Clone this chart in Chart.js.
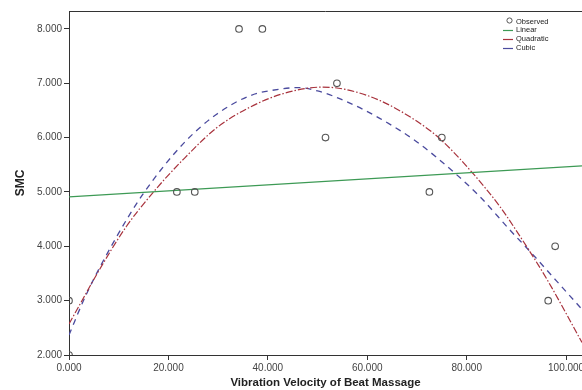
<!DOCTYPE html>
<html><head><meta charset="utf-8">
<script src="https://cdn.jsdelivr.net/npm/chart.js@4.4.0/dist/chart.umd.min.js"></script>
<style>html,body{margin:0;padding:0;background:#fff;}canvas{display:block;}</style>
</head><body>
<canvas id="c" width="582" height="390"></canvas>
<script>
// Observed points
const obsX = [0, 0, 21.7, 25.3, 34.2, 38.9, 51.6, 53.9, 72.5, 75.0, 96.4, 97.8];
const obsY = [3, 2, 5, 5, 8, 8, 6, 7, 5, 6, 3, 4];
// Linear fit
const linX = [0, 103.2];
const linY = [4.91, 5.48];
// Quadratic fit
const quadX = [0, 2, 6, 11.5, 17, 23, 29.7, 36.4, 43.1, 51, 56, 62.6, 70, 74.6, 80.7, 86.7, 89.4, 96.1, 103.2];
const quadY = [2.57, 2.9, 3.55, 4.36, 5.0, 5.6, 6.18, 6.56, 6.81, 6.93, 6.88, 6.68, 6.30, 5.98, 5.40, 4.73, 4.37, 3.40, 2.23];
// Cubic fit
const cubX = [0, 3.4, 8.8, 14.8, 23, 29.7, 36.4, 43.1, 46, 50, 55.9, 62.6, 70, 77.7, 82.7, 88.7, 93, 98.1, 103.2];
const cubY = [2.37, 3.1, 4.05, 4.95, 5.89, 6.43, 6.77, 6.90, 6.92, 6.86, 6.66, 6.35, 5.92, 5.34, 4.91, 4.30, 3.88, 3.36, 2.84];
// Axis ticks / labels
const xTicks = [0, 20, 40, 60, 80, 100];
const yTicks = [2, 3, 4, 5, 6, 7, 8];
const xTitle = 'Vibration Velocity of Beat Massage';
const yTitle = 'SMC';
const legendLabels = ['Observed', 'Linear', 'Quadratic', 'Cubic'];

const FONT = '"Liberation Sans", Arial, sans-serif';
const zip = (xs, ys) => xs.map((x, i) => ({x, y: ys[i]}));

const colObs = '#555555', colLin = '#3d9a55', colQuad = '#a8323c', colCub = '#4b4b9e';
const dashQuad = [7, 2, 1.5, 2], dashCub = [6, 5];

const frame = {
  id: 'frame',
  afterDraw(chart) {
    const {ctx, chartArea: a} = chart;
    ctx.save();
    ctx.strokeStyle = '#333';
    ctx.lineWidth = 1;
    ctx.beginPath();
    ctx.moveTo(a.left, a.top + 0.5);
    ctx.lineTo(a.right, a.top + 0.5);
    ctx.stroke();
    // legend
    const lx = 503, tx = 516;
    const rows = [21.5, 30, 39, 48];
    ctx.font = '7.5px ' + FONT;
    ctx.fillStyle = '#222';
    ctx.textBaseline = 'middle';
    ctx.textAlign = 'left';
    legendLabels.forEach((t, i) => ctx.fillText(t, tx, rows[i]));
    ctx.strokeStyle = colObs;
    ctx.beginPath();
    ctx.arc(509.5, rows[0] - 1, 2.6, 0, Math.PI * 2);
    ctx.stroke();
    [colLin, colQuad, colCub].forEach((c, i) => {
      ctx.strokeStyle = c;
      ctx.lineWidth = 1.2;
      ctx.beginPath();
      ctx.moveTo(lx, rows[i + 1] + 0.5);
      ctx.lineTo(lx + 10, rows[i + 1] + 0.5);
      ctx.stroke();
    });
    ctx.restore();
  }
};

new Chart(document.getElementById('c'), {
  type: 'scatter',
  data: {
    datasets: [
      {label: legendLabels[0], data: zip(obsX, obsY), showLine: false, pointStyle: 'circle',
       pointRadius: 3.3, pointBorderColor: colObs, pointBackgroundColor: 'rgba(0,0,0,0)', pointBorderWidth: 1.1},
      {label: legendLabels[1], data: zip(linX, linY), showLine: true, pointRadius: 0,
       borderColor: colLin, borderWidth: 1.2},
      {label: legendLabels[2], data: zip(quadX, quadY), showLine: true, pointRadius: 0,
       borderColor: colQuad, borderWidth: 1.2, borderDash: dashQuad, cubicInterpolationMode: 'monotone'},
      {label: legendLabels[3], data: zip(cubX, cubY), showLine: true, pointRadius: 0,
       borderColor: colCub, borderWidth: 1.3, borderDash: dashCub, cubicInterpolationMode: 'monotone'}
    ]
  },
  options: {
    responsive: false,
    devicePixelRatio: 1,
    animation: false,
    layout: {autoPadding: false, padding: {top: 11, right: 0, left: 0, bottom: 0}},
    plugins: {legend: {display: false}, tooltip: {enabled: false}},
    scales: {
      x: {
        type: 'linear', min: 0, max: 103.2,
        afterBuildTicks: s => { s.ticks = xTicks.map(v => ({value: v})); },
        afterFit: s => { s.height = 35; s.paddingRight = 0; s.paddingLeft = 0; },
        ticks: {includeBounds: false, autoSkip: false, maxRotation: 0, padding: 2, color: '#444',
                font: {family: FONT, size: 10}, callback: v => Number(v).toFixed(3)},
        grid: {drawOnChartArea: false, drawTicks: true, tickLength: 5, tickColor: '#333'},
        border: {color: '#333', width: 1},
        title: {display: true, text: xTitle, color: '#222', font: {family: FONT, size: 11.5, weight: 'bold'},
                padding: {top: 0, bottom: 0.5}}
      },
      y: {
        type: 'linear', min: 2, max: 8.33,
        afterBuildTicks: s => { s.ticks = yTicks.map(v => ({value: v})); },
        afterFit: s => { s.width = 69; s.paddingTop = 0; s.paddingBottom = 0; },
        ticks: {includeBounds: false, autoSkip: false, padding: 2, color: '#444',
                font: {family: FONT, size: 10}, callback: v => Number(v).toFixed(3)},
        grid: {drawOnChartArea: false, drawTicks: true, tickLength: 5, tickColor: '#333'},
        border: {color: '#333', width: 1},
        title: {display: true, text: yTitle, color: '#222', font: {family: FONT, size: 12, weight: 'bold'},
                padding: {top: 13, bottom: 0}}
      }
    }
  },
  plugins: [frame]
});
</script>
</body></html>
